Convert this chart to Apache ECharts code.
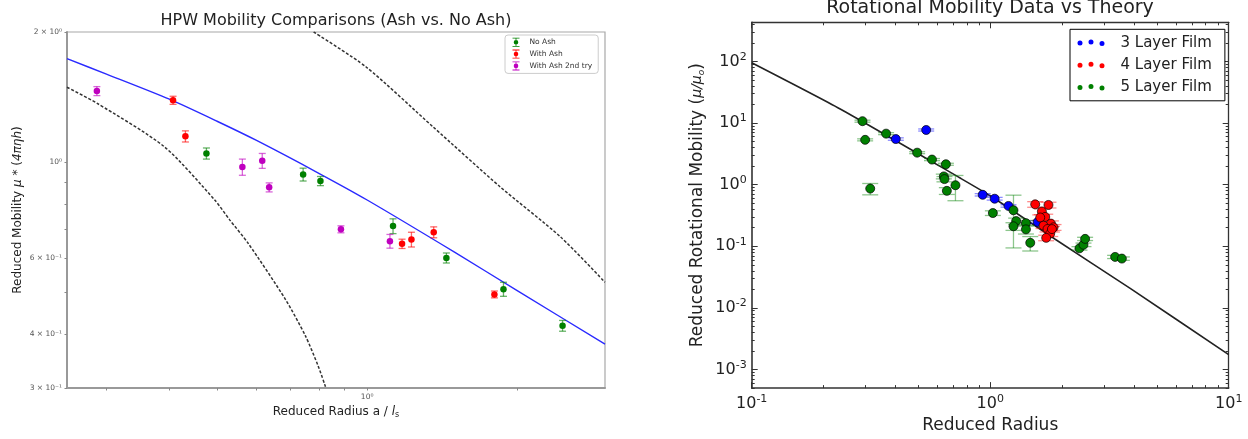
<!DOCTYPE html>
<html>
<head>
<meta charset="utf-8">
<script src="https://cdn.jsdelivr.net/npm/echarts@6/dist/echarts.min.js"></script>
<style>
  html, body { margin: 0; padding: 0; background: #fff; }
  #chart { width: 1248px; height: 439px; }
</style>
</head>
<body>
<div id="chart"></div>
<script>
// ---------- HPW panel: reduced radius, reduced mobility, +/- error ----------
const noAshX   = [0.476, 0.744, 0.806, 1.127, 1.442, 1.877, 2.466];
const noAshY   = [1.047, 0.936, 0.904, 0.711, 0.600, 0.508, 0.418];
const noAshErr = [0.031, 0.032, 0.022, 0.028, 0.016, 0.019, 0.012];

const withAshX   = [0.408, 0.432, 1.175, 1.227, 1.360, 1.800];
const withAshY   = [1.390, 1.147, 0.647, 0.662, 0.688, 0.494];
const withAshErr = [0.030, 0.034, 0.016, 0.026, 0.020, 0.009];

const ash2X   = [0.287, 0.562, 0.616, 0.636, 0.886, 1.111];
const ash2Y   = [1.460, 0.974, 1.007, 0.874, 0.699, 0.656];
const ash2Err = [0.035, 0.042, 0.040, 0.021, 0.013, 0.024];

// HPW theory (solid blue) and the two limiting curves (dashed)
const hpwX = [0.25, 0.30, 0.40, 0.50, 0.60, 0.80, 1.00, 1.50, 2.00, 3.00];
const hpwY = [1.735, 1.598, 1.400, 1.243, 1.122, 0.942, 0.817, 0.618, 0.504, 0.379];
const smallLimitX = [0.25, 0.2875, 0.392, 0.4946, 0.5305, 0.5776, 0.685, 0.752, 0.797, 0.825];
const smallLimitY = [1.490, 1.367, 1.085, 0.817, 0.734, 0.648, 0.482, 0.396, 0.338, 0.302];
const largeLimitX = [0.781, 0.994, 1.355, 1.847, 2.443, 3.00];
const largeLimitY = [2.000, 1.662, 1.207, 0.877, 0.671, 0.527];

// HPW panel tick labels
const hpwYLabelVals = [0.3, 0.4, 0.6, 1, 2];
const hpwYLabelText = ['3 × 10⁻¹', '4 × 10⁻¹', '6 × 10⁻¹', '10⁰', '2 × 10⁰'];
const hpwYTickVals  = [0.3, 0.4, 0.5, 0.6, 0.7, 0.8, 0.9, 1, 2];
const hpwXLabelVals = [1];
const hpwXLabelText = ['10⁰'];
const hpwXTickVals  = [0.3, 0.4, 0.5, 0.6, 0.7, 0.8, 0.9, 1, 2];

// ---------- Rotational panel: reduced radius, reduced rotational mobility, +/- error ----------
const film3X   = [0.402, 0.539, 0.930, 1.044, 1.193, 1.582];
const film3Y   = [5.49, 7.70, 0.684, 0.591, 0.451, 0.248];
const film3Err = [0.25, 0.30, 0.030, 0.030, 0.020, 0.012];

const film4X   = [1.544, 1.755, 1.647, 1.701, 1.621, 1.797, 1.673, 1.843, 1.739, 1.785, 1.717, 1.815];
const film4Y   = [0.479, 0.468, 0.366, 0.299, 0.293, 0.233, 0.216, 0.203, 0.1905, 0.161, 0.137, 0.190];
const film4Err = [0.050, 0.050, 0.040, 0.032, 0.030, 0.025, 0.022, 0.022, 0.020, 0.017, 0.014, 0.020];

const film5X   = [0.2914, 0.299, 0.314, 0.366, 0.494, 0.570, 0.652, 0.639, 0.643, 0.658, 0.715, 1.026,
                  1.252, 1.285, 1.252, 1.412, 1.412, 1.472, 2.368, 2.461, 2.500, 3.340, 3.565];
const film5Y   = [10.7, 5.33, 0.863, 6.72, 3.30, 2.55, 2.14, 1.36, 1.23, 0.793, 0.978, 0.346,
                  0.384, 0.256, 0.211, 0.237, 0.188, 0.1138, 0.0926, 0.1057, 0.1318, 0.0672, 0.0631];
const film5Err = [0.40, 0.20, 0.18, 0.25, 0.12, 0.10, 0.08, 0.12, 0.12, 0.10, 0.43, 0.030,
                  0.29, 0.030, 0.030, 0.025, 0.030, 0.030, 0.006, 0.007, 0.008, 0.004, 0.004];

// theory line
const rotTheoryX = [0.1, 0.235, 0.748, 1.0, 1.873, 3.864, 10];
const rotTheoryY = [95, 16.9, 1.28, 0.659, 0.130, 0.0207, 0.00175];

// Rotational panel decade labels
const rotXLabelVals = [0.1, 1, 10];
const rotYLabelVals = [0.001, 0.01, 0.1, 1, 10, 100];

// ---------- helpers ----------
function pairs(xs, ys) { return xs.map((x, i) => [x, ys[i]]); }
function triples(xs, ys, es) { return xs.map((x, i) => [x, ys[i], es[i]]); }

// 2..9 x 10^k tick positions between lo and hi
function minorLogTicks(lo, hi) {
  const out = [];
  for (let k = Math.floor(Math.log10(lo)); k <= Math.ceil(Math.log10(hi)); k++) {
    for (let m = 2; m <= 9; m++) {
      const v = Number((m * Math.pow(10, k)).toPrecision(6));
      if (v >= lo && v <= hi) out.push(v);
    }
  }
  return out;
}

function lookupLabel(vals, texts) {
  return function (v) {
    for (let i = 0; i < vals.length; i++) {
      if (Math.abs(v - vals[i]) / vals[i] < 1e-6) return texts[i];
    }
    return '';
  };
}

// vertical error bar with caps (custom series renderer)
function errorBars(capHalf, lineWidth, color, opacity) {
  return function (params, api) {
    const x = api.value(0), y = api.value(1), e = api.value(2);
    const hi = api.coord([x, y + e]);
    const lo = api.coord([x, Math.max(y - e, 1e-6)]);
    const style = { stroke: color, lineWidth: lineWidth, opacity: opacity };
    return {
      type: 'group',
      children: [
        { type: 'line', shape: { x1: hi[0], y1: hi[1], x2: lo[0], y2: lo[1] }, style: style },
        { type: 'line', shape: { x1: hi[0] - capHalf, y1: hi[1], x2: hi[0] + capHalf, y2: hi[1] }, style: style },
        { type: 'line', shape: { x1: lo[0] - capHalf, y1: lo[1], x2: lo[0] + capHalf, y2: lo[1] }, style: style }
      ]
    };
  };
}

const GREEN = '#008000', RED = '#ff0000', MAGENTA = '#bf00bf', BLUE = '#0000ff';

// legend glyphs
const errorbarIcon = 'path://M0,0H7V0.8H0Z M3.1,0H3.9V9H3.1Z M0,8.2H7V9H0Z M1.2,4.5A2.3,2.3 0 1,1 5.8,4.5A2.3,2.3 0 1,1 1.2,4.5Z';
const threeDotIcon = 'path://M0,4.5a2.5,2.5 0 1,1 5,0a2.5,2.5 0 1,1 -5,0Z M11,3.5a2.5,2.5 0 1,1 5,0a2.5,2.5 0 1,1 -5,0Z M22,5a2.5,2.5 0 1,1 5,0a2.5,2.5 0 1,1 -5,0Z';

const supRich = {
  b: { fontSize: 16, color: '#222', fontFamily: 'DejaVu Sans', lineHeight: 20 },
  s: { fontSize: 11, color: '#222', fontFamily: 'DejaVu Sans', verticalAlign: 'top', lineHeight: 20 }
};
function decadeLabel(v) {
  const k = Math.round(Math.log10(v));
  return '{b|10}{s|' + k + '}';
}

const rotMinorX = minorLogTicks(0.1, 10);
const rotMinorY = minorLogTicks(5e-4, 430);

function rotAxisBase(extra) {
  return Object.assign({
    gridIndex: 1,
    type: 'log',
    splitLine: { show: false },
    axisLine: { show: false, onZero: false },
    axisLabel: { show: false },
    axisTick: { show: true, inside: true, length: 3, lineStyle: { color: '#333', width: 1 } }
  }, extra);
}

const option = {
  animation: false,
  backgroundColor: '#ffffff',
  textStyle: { fontFamily: 'DejaVu Sans' },
  title: [
    {
      text: 'HPW Mobility Comparisons (Ash vs. No Ash)',
      left: 336, top: 13, textAlign: 'center', padding: 0,
      textStyle: { fontSize: 16, fontWeight: 'normal', color: '#222', fontFamily: 'DejaVu Sans' }
    },
    {
      text: 'Rotational Mobility Data vs Theory',
      left: 990, top: -1, textAlign: 'center', padding: 0,
      textStyle: { fontSize: 19, fontWeight: 'normal', color: '#222', fontFamily: 'DejaVu Sans' }
    }
  ],
  legend: [
    {
      data: [
        { name: 'No Ash', icon: errorbarIcon },
        { name: 'With Ash', icon: errorbarIcon },
        { name: 'With Ash 2nd try', icon: errorbarIcon }
      ],
      orient: 'vertical', left: 505, top: 35,
      itemWidth: 7, itemHeight: 9, itemGap: 2.8,
      padding: [2.8, 6, 3, 7.5],
      backgroundColor: '#fff', borderColor: '#cccccc', borderWidth: 1, borderRadius: 3,
      selectedMode: false,
      itemStyle: { opacity: 1 },
      textStyle: { fontSize: 7.5, color: '#333', fontFamily: 'DejaVu Sans', padding: [0, 0, 0, 5] }
    },
    {
      data: [
        { name: '3 Layer Film', icon: threeDotIcon },
        { name: '4 Layer Film', icon: threeDotIcon },
        { name: '5 Layer Film', icon: threeDotIcon }
      ],
      orient: 'vertical', left: 1070, top: 29.3,
      itemWidth: 27, itemHeight: 6.5, itemGap: 7.3,
      padding: [5.9, 13, 6, 7.5],
      backgroundColor: '#fff', borderColor: '#000', borderWidth: 1, borderRadius: 0,
      selectedMode: false,
      itemStyle: { borderWidth: 0, opacity: 1 },
      textStyle: { fontSize: 15, lineHeight: 15, color: '#222', fontFamily: 'DejaVu Sans', padding: [0, 0, 0, 11] }
    }
  ],
  grid: [
    { left: 67, right: 643, top: 32, bottom: 51, show: true, borderColor: '#a8a8a8', borderWidth: 1.2, containLabel: false },
    { left: 751.7, right: 19.3, top: 22.3, bottom: 46.3, show: false, containLabel: false }
  ],
  xAxis: [
    // HPW panel
    {
      gridIndex: 0, type: 'log', min: 0.25, max: 3, position: 'bottom',
      splitLine: { show: false },
      axisLine: { show: true, onZero: false, lineStyle: { color: '#999', width: 2 } },
      axisTick: { show: true, length: 2.5, customValues: hpwXTickVals, lineStyle: { color: '#888', width: 1 } },
      axisLabel: { customValues: hpwXLabelVals, formatter: lookupLabel(hpwXLabelVals, hpwXLabelText),
                   fontSize: 7.5, color: '#555', margin: 5 },
      name: 'Reduced Radius a / {i|l}{sub|s}',
      nameLocation: 'middle', nameGap: 17,
      nameTextStyle: {
        fontSize: 12, color: '#222',
        rich: {
          i: { fontSize: 12, fontStyle: 'italic', color: '#222' },
          sub: { fontSize: 8, color: '#222', verticalAlign: 'bottom', padding: [6, 0, 0, 0] }
        }
      }
    },
    // Rotational panel: bottom major, bottom minor, top major, top minor
    rotAxisBase({
      min: 0.1, max: 10, position: 'bottom',
      axisLine: { show: true, onZero: false, lineStyle: { color: '#333', width: 1.6 } },
      axisTick: { show: true, inside: true, length: 6, customValues: rotXLabelVals, lineStyle: { color: '#333', width: 1 } },
      axisLabel: { show: true, customValues: rotXLabelVals, formatter: decadeLabel, rich: supRich, margin: 6 },
      name: 'Reduced Radius', nameLocation: 'middle', nameGap: 27,
      nameTextStyle: { fontSize: 17, color: '#222' }
    }),
    rotAxisBase({ min: 0.1, max: 10, position: 'bottom',
      axisTick: { show: true, inside: true, length: 3, customValues: rotMinorX, lineStyle: { color: '#333', width: 1 } } }),
    rotAxisBase({
      min: 0.1, max: 10, position: 'top',
      axisLine: { show: true, onZero: false, lineStyle: { color: '#333', width: 1.3 } },
      axisTick: { show: true, inside: true, length: 6, customValues: rotXLabelVals, lineStyle: { color: '#333', width: 1 } }
    }),
    rotAxisBase({ min: 0.1, max: 10, position: 'top',
      axisTick: { show: true, inside: true, length: 3, customValues: rotMinorX, lineStyle: { color: '#333', width: 1 } } })
  ],
  yAxis: [
    // HPW panel
    {
      gridIndex: 0, type: 'log', min: 0.3, max: 2, position: 'left',
      splitLine: { show: false },
      axisLine: { show: true, onZero: false, lineStyle: { color: '#999', width: 2 } },
      axisTick: { show: true, length: 2.5, customValues: hpwYTickVals, lineStyle: { color: '#888', width: 1 } },
      axisLabel: { customValues: hpwYLabelVals, formatter: lookupLabel(hpwYLabelVals, hpwYLabelText),
                   fontSize: 7.5, color: '#555', margin: 5 },
      name: '{n|Reduced Mobility }{i|μ}{n| * (}{i|4πηh}{n|)}',
      nameLocation: 'middle', nameGap: 43,
      nameTextStyle: {
        rich: {
          n: { fontSize: 12, color: '#222' },
          i: { fontSize: 12, color: '#222', fontStyle: 'italic' }
        }
      }
    },
    // Rotational panel: left major, left minor, right major, right minor
    rotAxisBase({
      min: 5e-4, max: 430, position: 'left',
      axisLine: { show: true, onZero: false, lineStyle: { color: '#333', width: 1.6 } },
      axisTick: { show: true, inside: true, length: 6, customValues: rotYLabelVals, lineStyle: { color: '#333', width: 1 } },
      axisLabel: { show: true, customValues: rotYLabelVals, formatter: decadeLabel, rich: supRich, margin: 5 },
      name: '{n|Reduced Rotational Mobility (}{i|μ/μ}{sub|o}{n|)}',
      nameLocation: 'middle', nameGap: 46,
      nameTextStyle: {
        rich: {
          n: { fontSize: 17, color: '#222' },
          i: { fontSize: 14, color: '#222', fontStyle: 'italic' },
          sub: { fontSize: 9, color: '#222', fontStyle: 'italic', verticalAlign: 'bottom' }
        }
      }
    }),
    rotAxisBase({ min: 5e-4, max: 430, position: 'left',
      axisTick: { show: true, inside: true, length: 3, customValues: rotMinorY, lineStyle: { color: '#333', width: 1 } } }),
    rotAxisBase({
      min: 5e-4, max: 430, position: 'right',
      axisLine: { show: true, onZero: false, lineStyle: { color: '#333', width: 1.3 } },
      axisTick: { show: true, inside: true, length: 6, customValues: rotYLabelVals, lineStyle: { color: '#333', width: 1 } }
    }),
    rotAxisBase({ min: 5e-4, max: 430, position: 'right',
      axisTick: { show: true, inside: true, length: 3, customValues: rotMinorY, lineStyle: { color: '#333', width: 1 } } })
  ],
  series: [
    // ----- HPW panel -----
    { name: 'HPW', type: 'line', xAxisIndex: 0, yAxisIndex: 0, data: pairs(hpwX, hpwY),
      showSymbol: false, smooth: 0.25, lineStyle: { color: '#2a2aff', width: 1.4 }, z: 2, silent: true },
    { name: 'small limit', type: 'line', xAxisIndex: 0, yAxisIndex: 0, data: pairs(smallLimitX, smallLimitY),
      showSymbol: false, smooth: 0.25, lineStyle: { color: '#333', width: 1.5, type: [3, 1.8] }, z: 2, silent: true },
    { name: 'large limit', type: 'line', xAxisIndex: 0, yAxisIndex: 0, data: pairs(largeLimitX, largeLimitY),
      showSymbol: false, smooth: 0.25, lineStyle: { color: '#333', width: 1.5, type: [3, 1.8] }, z: 2, silent: true },

    { name: 'No Ash err', type: 'custom', xAxisIndex: 0, yAxisIndex: 0, encode: { x: 0, y: 1 },
      data: triples(noAshX, noAshY, noAshErr), renderItem: errorBars(3.5, 1.3, GREEN, 0.6), z: 3, silent: true },
    { name: 'With Ash err', type: 'custom', xAxisIndex: 0, yAxisIndex: 0, encode: { x: 0, y: 1 },
      data: triples(withAshX, withAshY, withAshErr), renderItem: errorBars(3.5, 1.3, RED, 0.6), z: 3, silent: true },
    { name: 'With Ash 2nd try err', type: 'custom', xAxisIndex: 0, yAxisIndex: 0, encode: { x: 0, y: 1 },
      data: triples(ash2X, ash2Y, ash2Err), renderItem: errorBars(3.5, 1.3, MAGENTA, 0.6), z: 3, silent: true },

    { name: 'No Ash', type: 'scatter', xAxisIndex: 0, yAxisIndex: 0, data: pairs(noAshX, noAshY),
      symbolSize: 6.5, itemStyle: { color: GREEN, opacity: 1 }, z: 4 },
    { name: 'With Ash', type: 'scatter', xAxisIndex: 0, yAxisIndex: 0, data: pairs(withAshX, withAshY),
      symbolSize: 6.5, itemStyle: { color: RED, opacity: 1 }, z: 4 },
    { name: 'With Ash 2nd try', type: 'scatter', xAxisIndex: 0, yAxisIndex: 0, data: pairs(ash2X, ash2Y),
      symbolSize: 6.5, itemStyle: { color: MAGENTA, opacity: 1 }, z: 4 },

    // ----- Rotational panel -----
    { name: 'theory', type: 'line', xAxisIndex: 1, yAxisIndex: 1, data: pairs(rotTheoryX, rotTheoryY),
      showSymbol: false, smooth: 0.2, lineStyle: { color: '#222', width: 1.6 }, z: 2, silent: true },

    { name: '3 Layer Film err', type: 'custom', xAxisIndex: 1, yAxisIndex: 1, encode: { x: 0, y: 1 },
      data: triples(film3X, film3Y, film3Err), renderItem: errorBars(8, 1.3, BLUE, 0.45), z: 3, silent: true },
    { name: '4 Layer Film err', type: 'custom', xAxisIndex: 1, yAxisIndex: 1, encode: { x: 0, y: 1 },
      data: triples(film4X, film4Y, film4Err), renderItem: errorBars(8, 1.3, RED, 0.45), z: 3, silent: true },
    { name: '5 Layer Film err', type: 'custom', xAxisIndex: 1, yAxisIndex: 1, encode: { x: 0, y: 1 },
      data: triples(film5X, film5Y, film5Err), renderItem: errorBars(8, 1.3, GREEN, 0.45), z: 3, silent: true },

    { name: '3 Layer Film', type: 'scatter', xAxisIndex: 1, yAxisIndex: 1, data: pairs(film3X, film3Y),
      symbolSize: 9, itemStyle: { color: BLUE, borderColor: '#000', borderWidth: 0.7, opacity: 1 }, z: 4 },
    { name: '4 Layer Film', type: 'scatter', xAxisIndex: 1, yAxisIndex: 1, data: pairs(film4X, film4Y),
      symbolSize: 9, itemStyle: { color: RED, borderColor: '#000', borderWidth: 0.7, opacity: 1 }, z: 4 },
    { name: '5 Layer Film', type: 'scatter', xAxisIndex: 1, yAxisIndex: 1, data: pairs(film5X, film5Y),
      symbolSize: 9, itemStyle: { color: GREEN, borderColor: '#000', borderWidth: 0.7, opacity: 1 }, z: 4 }
  ]
};

const chart = echarts.init(document.getElementById('chart'), null, { renderer: 'canvas' });
chart.setOption(option);
</script>
</body>
</html>
